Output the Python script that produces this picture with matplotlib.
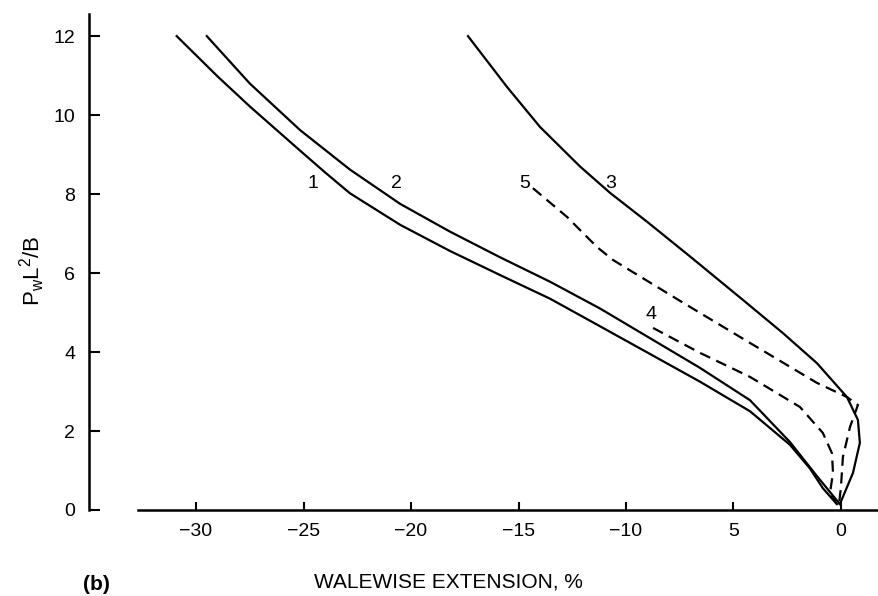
import matplotlib
matplotlib.use("Agg")
from matplotlib import pyplot as plt

plt.rcParams['font.family'] = ['Liberation Sans', 'DejaVu Sans']

# curves (walewise extension %, PwL^2/B)
x1 = [-30.9, -29.0, -27.5, -25.16, -24.0, -22.84, -20.5, -18.19, -15.86, -13.53, -11.2, -8.88, -6.56, -4.23, -2.37, -1.44, -0.84, -0.19]
y1 = [12.0, 10.98, 10.22, 9.1, 8.55, 8.02, 7.22, 6.56, 5.95, 5.35, 4.65, 3.95, 3.25, 2.5, 1.65, 1.05, 0.55, 0.15]

x2 = [-29.5, -27.5, -25.16, -22.84, -20.5, -18.19, -15.86, -13.53, -11.2, -8.88, -6.56, -4.23, -2.37, -1.12, -0.05]
y2 = [12.0, 10.8, 9.62, 8.62, 7.75, 7.05, 6.4, 5.78, 5.1, 4.35, 3.6, 2.78, 1.72, 0.86, 0.15]

x3 = [-17.35, -15.53, -14.0, -12.14, -10.74, -9.02, -7.02, -4.56, -2.7, -1.12, 0.28, 0.79, 0.88, 0.56, -0.05]
y3 = [12.0, 10.71, 9.7, 8.7, 8.03, 7.3, 6.42, 5.32, 4.48, 3.72, 2.86, 2.28, 1.70, 0.94, 0.15]

x4 = [-8.74, -6.56, -4.23, -1.91, -0.84, -0.42, -0.37, -0.51, -0.19]
y4 = [4.61, 3.98, 3.37, 2.61, 1.95, 1.44, 0.94, 0.43, 0.15]

x5 = [-14.33, -12.74, -11.35, -10.6, -7.35, -4.23, -1.12, 0.28, 0.79, 0.42, 0.09, 0.0, -0.09]
y5 = [8.15, 7.42, 6.66, 6.33, 5.25, 4.23, 3.22, 2.86, 2.66, 2.1, 1.34, 0.58, 0.15]

curve_labels = ["1", "2", "3", "4", "5"]
label_x = [-24.56, -20.7, -10.7, -8.84, -14.7]
label_y = [8.28, 8.28, 8.28, 4.94, 8.28]

xticks = [-30, -25, -20, -15, -10, -5, 0]
xtick_labels = ["\u221230", "\u221225", "\u221220", "\u221215", "\u221210", "5", "0"]
yticks = [0, 2, 4, 6, 8, 10, 12]

fig = plt.figure(figsize=(8.79, 5.96), dpi=100)
ax = fig.add_axes([89/879, 86/596, 790/879, 496/596])

ax.plot(x1, y1, color="black", lw=1.6)
ax.plot(x2, y2, color="black", lw=1.6)
ax.plot(x3, y3, color="black", lw=1.6)
ax.plot(x4, y4, color="black", lw=1.6, dashes=(5, 3))
ax.plot(x5, y5, color="black", lw=1.6, dashes=(5, 3))

for t, tx, ty in zip(curve_labels, label_x, label_y):
    ax.text(tx, ty, t, fontsize=14, ha="center", va="center")

ax.set_xlim(-34.98, 1.77)
ax.set_ylim(0, 12.56)

ax.spines["top"].set_visible(False)
ax.spines["right"].set_visible(False)
ax.spines["left"].set_linewidth(1.8)
ax.spines["bottom"].set_linewidth(1.8)
ax.spines["bottom"].set_bounds(-32.7, 1.77)

ax.set_xticks(xticks)
ax.set_xticklabels(xtick_labels)
ax.set_yticks(yticks)
ax.tick_params(axis="x", direction="in", length=6, width=1.5, labelsize=14, pad=9)
ax.tick_params(axis="y", direction="in", length=8, width=1.5, labelsize=14, pad=10)

fig.text(32/879, 1 - 271/596, "P$_\\mathregular{w}$L$^\\mathregular{2}$/B", rotation=90,
         fontsize=16, ha="center", va="center")
fig.text(448/879, 1 - 582/596, "WALEWISE EXTENSION, %", fontsize=15, ha="center", va="center")
fig.text(96/879, 1 - 584/596, "(b)", fontsize=15, fontweight="bold", ha="center", va="center")

fig.savefig("out.png", dpi=100)
